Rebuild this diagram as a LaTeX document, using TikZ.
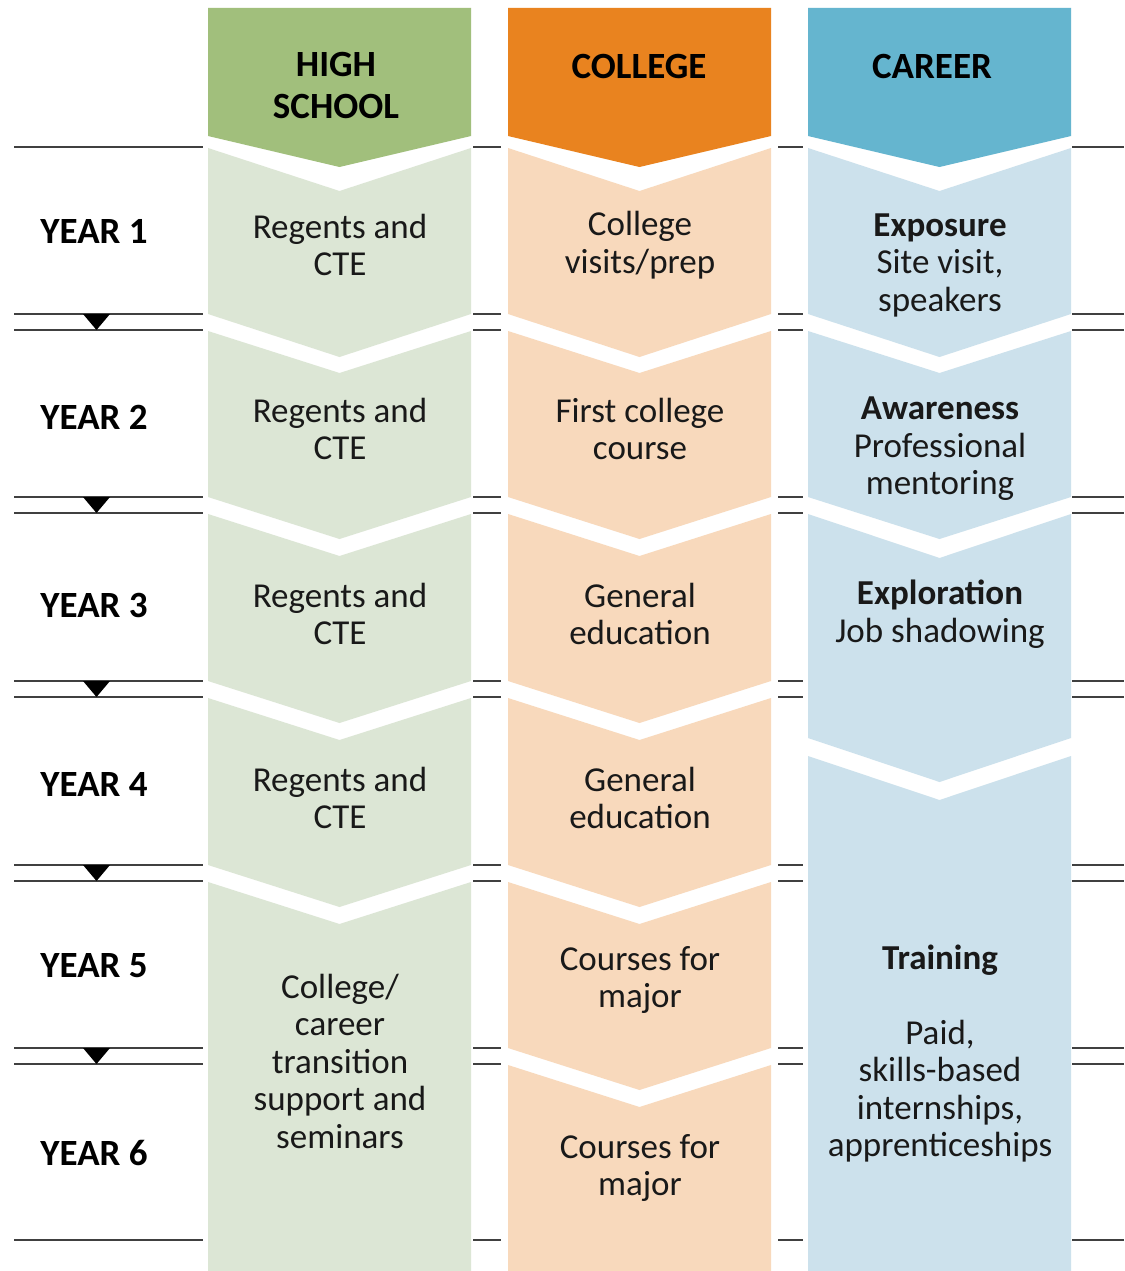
\documentclass[tikz,border=0pt]{standalone}
\usepackage{fontspec}
\setmainfont{Carlito}
\definecolor{hsdark}{HTML}{A1BF7C}
\definecolor{hslight}{HTML}{DCE6D5}
\definecolor{coldark}{HTML}{E9831F}
\definecolor{collight}{HTML}{F8D9BC}
\definecolor{cardark}{HTML}{65B5CF}
\definecolor{carlight}{HTML}{CCE1EC}
\definecolor{linegray}{HTML}{404040}
\tikzset{
  body/.style={font=\fontsize{35}{37.5}\selectfont, align=center, inner sep=0pt, text=black!90},
  yearlbl/.style={font=\fontsize{37}{40}\selectfont\bfseries, inner sep=0pt},
  head/.style={font=\fontsize{37}{42}\selectfont\bfseries, align=center, inner sep=0pt},
  rule/.style={draw=linegray, line width=1.2pt},
  marker/.style={fill=black, draw=none}
}
\newcommand{\chev}[6]{% color, xl, xr, ytop, ybot, depth
  \fill[#1] (#2,#4) -- ({(#2+#3)/2},{#4+#6}) -- (#3,#4) -- (#3,#5) -- ({(#2+#3)/2},{#5+#6}) -- (#2,#5) -- cycle;}
\newcommand{\chevflat}[5]{% color, xl, xr, ytop, depth
  \fill[#1] (#2,#4) -- ({(#2+#3)/2},{#4+#5}) -- (#3,#4) -- (#3,1271) -- (#2,1271) -- cycle;}
\newcommand{\headshape}[3]{% color xl xr
  \fill[#1] (#2,8) -- (#3,8) -- (#3,136) -- ({(#2+#3)/2},167) -- (#2,136) -- cycle;}
\begin{document}
\begin{tikzpicture}[x=1pt,y=-1pt]
\useasboundingbox (0,0) rectangle (1124,1271);
\fill[white] (0,0) rectangle (1124,1271);
% horizontal rules
\foreach \yy in {147,314,330,497,513,681,697,865,881,1048,1064,1240}{
  \draw[rule] (14,\yy) -- (203,\yy);
  \draw[rule] (473,\yy) -- (501,\yy);
  \draw[rule] (778,\yy) -- (803,\yy);
  \draw[rule] (1072,\yy) -- (1124,\yy);
}
% year markers
\foreach \yy in {314,497,681,865,1048}{
  \fill[marker] (83,\yy) -- (110,\yy) -- (96.5,\yy+16) -- cycle;
}
% headers
\headshape{hsdark}{208}{471}
\headshape{coldark}{508}{771}
\headshape{cardark}{808}{1071}
% high school column
\chev{hslight}{208}{471}{148}{314}{43}
\chev{hslight}{208}{471}{331}{497}{42}
\chev{hslight}{208}{471}{514}{681}{42}
\chev{hslight}{208}{471}{698}{865}{42}
\chevflat{hslight}{208}{471}{882}{42}
% college column
\chev{collight}{508}{771}{148}{314}{43}
\chev{collight}{508}{771}{331}{497}{42}
\chev{collight}{508}{771}{514}{681}{42}
\chev{collight}{508}{771}{698}{865}{42}
\chev{collight}{508}{771}{882}{1048}{42}
\chevflat{collight}{508}{771}{1065}{42}
% career column
\chev{carlight}{808}{1071}{148}{314}{43}
\chev{carlight}{808}{1071}{331}{497}{42}
\chev{carlight}{808}{1071}{514}{738}{44}
\chevflat{carlight}{808}{1071}{756}{44}
% header texts
\node[head] (hhs) at (336,85) {HIGH\\SCHOOL};
\node[head] (hcol) at (639,66) {COLLEGE};
\node[head] (hcar) at (932,66) {CAREER};
% year labels
\node[yearlbl] (y1) at (94,231) {YEAR 1};
\node[yearlbl] (y2) at (94,417) {YEAR 2};
\node[yearlbl] (y3) at (94,605) {YEAR 3};
\node[yearlbl] (y4) at (94,784) {YEAR 4};
\node[yearlbl] (y5) at (94,966) {YEAR 5};
\node[yearlbl] (y6) at (94,1153) {YEAR 6};
% high school texts
\node[body] (hs1) at (340,245) {Regents and\\CTE};
\node[body] (hs2) at (340,429) {Regents and\\CTE};
\node[body] (hs3) at (340,614) {Regents and\\CTE};
\node[body] (hs4) at (340,798) {Regents and\\CTE};
\node[body] (hs5) at (340,1061) {College/\\career\\transition\\support and\\seminars};
% college texts
\node[body] (c1) at (640,245) {College\\visits/prep};
\node[body] (c2) at (640,429) {First college\\course};
\node[body] (c3) at (640,614) {General\\education};
\node[body] (c4) at (640,798) {General\\education};
\node[body] (c5) at (640,980) {Courses for\\major};
\node[body] (c6) at (640,1168) {Courses for\\major};
% career texts
\node[body] (k1) at (940,265) {\textbf{Exposure}\\Site visit,\\speakers};
\node[body] (k2) at (940,449) {\textbf{Awareness}\\Professional\\mentoring};
\node[body] (k3) at (940,614) {\textbf{Exploration}\\Job shadowing};
\node[body] (k4) at (940,960) {\textbf{Training}};
\node[body] (k5) at (940,1091) {Paid,\\skills-based\\internships,\\apprenticeships};
\end{tikzpicture}
\end{document}
